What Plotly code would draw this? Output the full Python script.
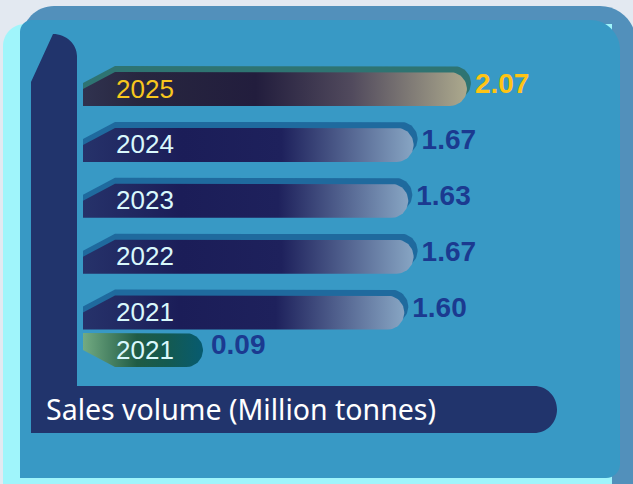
import numpy as np
import plotly.graph_objects as go

# ---------------- data ----------------
years = ["2025", "2024", "2023", "2022", "2021", "2021"]
values = [2.07, 1.67, 1.63, 1.67, 1.60, 0.09]
value_labels = ["2.07", "1.67", "1.63", "1.67", "1.60", "0.09"]
title_text = "Sales volume (Million tonnes)"

# ---------------- layout / style constants ----------------
W, H = 633, 484
PX0, PXU = 191.0, 133.3      # pixel of value 0, pixels per unit (x scale)
ROW0, ROWU = 89.0, 55.9      # pixel of first row, pixels per row (y scale)
row_pos = [0, 1, 2, 3, 4, 4.67]
kinds = ["gold", "blue", "blue", "blue", "blue", "green"]


def xd(px):
    return (px - PX0) / PXU


def yd(py):
    return (py - ROW0) / ROWU


BAR_LEFT = xd(83)
HH = 17 / ROWU
RX = 17 / PXU
SLW = 32 / PXU
SLH = 17 / ROWU

grad = {
    "gold": [[0, "#30324f"], [0.15, "#27263f"], [0.45, "#221d3d"], [0.7, "#514a5d"], [1, "#aca98d"]],
    "blue": [[0, "#26326a"], [0.3, "#1b1d58"], [0.6, "#1e215c"], [1, "#87a5c3"]],
    "green": [[0, "#73ab82"], [0.45, "#1f5b45"], [0.7, "#145a50"], [1, "#075b70"]],
}
back_col = {"gold": "#2e7472", "blue": "#1f6a9e"}
year_col = {"gold": "#f8c71d", "blue": "#d9f8fc", "green": "#d9f8fc"}
val_col = {"gold": "#ffc414", "blue": "#1b3a90", "green": "#1b3a90"}


def arc(cx, cy):
    t = np.linspace(-np.pi / 2, np.pi / 2, 30)
    return list(cx + RX * np.cos(t)), list(cy + HH * np.sin(t))


def bar_shape(v, r, cut="top", dx=0.0, dy=0.0):
    top, bot = r - HH + dy, r + HH + dy
    ax, ay = arc(v - RX + dx, r + dy)
    if cut == "top":
        xs = [BAR_LEFT, BAR_LEFT, BAR_LEFT + SLW] + ax + [BAR_LEFT]
        ys = [bot, top + SLH, top] + ay + [bot]
    else:
        xs = [BAR_LEFT] + ax + [BAR_LEFT + SLW, BAR_LEFT, BAR_LEFT]
        ys = [top] + ay + [bot, bot - SLH, top]
    return xs, ys


fig = go.Figure()

for yr, v, r, k in zip(years, values, row_pos, kinds):
    if k != "green":
        bx, by = bar_shape(v, r, "top", dx=4 / PXU, dy=-6 / ROWU)
        fig.add_trace(go.Scatter(x=bx, y=by, mode="lines", fill="toself",
                                 fillcolor=back_col[k], line=dict(width=0),
                                 hoverinfo="skip"))
    mx, my = bar_shape(v, r, "top" if k != "green" else "bottom")
    fig.add_trace(go.Scatter(x=mx, y=my, mode="lines", fill="toself",
                             fillgradient=dict(type="horizontal", colorscale=grad[k]),
                             line=dict(width=0), hoverinfo="skip"))

# year labels inside bars
fig.add_trace(go.Scatter(
    x=[xd(116)] * len(years), y=[r + 2 / ROWU for r in row_pos], mode="text",
    text=years, textposition="middle right",
    textfont=dict(family="Liberation Sans", size=26, color=[year_col[k] for k in kinds]),
    hoverinfo="skip"))

# value labels
fig.add_trace(go.Scatter(
    x=[v + 8 / PXU for v in values], y=[r - 3 / ROWU for r in row_pos], mode="text",
    text=[f"<b>{t}</b>" for t in value_labels], textposition="middle right",
    textfont=dict(family="Liberation Sans", size=28, color=[val_col[k] for k in kinds]),
    hoverinfo="skip"))


# ---------------- decorations (paper coords from pixels) ----------------
def P(px, py):
    return f"{px / W:.5f},{1 - py / H:.5f}"


def rrect(x0, y0, x1, y1, tl, tr, br, bl):
    k = 0.5523
    s = f"M{P(x0 + tl, y0)} L{P(x1 - tr, y0)} "
    s += f"C{P(x1 - tr + k * tr, y0)} {P(x1, y0 + tr - k * tr)} {P(x1, y0 + tr)} "
    s += f"L{P(x1, y1 - br)} C{P(x1, y1 - br + k * br)} {P(x1 - br + k * br, y1)} {P(x1 - br, y1)} "
    s += f"L{P(x0 + bl, y1)} C{P(x0 + bl - k * bl, y1)} {P(x0, y1 - bl + k * bl)} {P(x0, y1 - bl)} "
    s += f"L{P(x0, y0 + tl)} C{P(x0, y0 + tl - k * tl)} {P(x0 + tl - k * tl, y0)} {P(x0 + tl, y0)} Z"
    return s


navy = (f"M{P(31, 82)} L{P(53, 34)} C{P(66, 34)} {P(77, 44)} {P(77, 56)} "
        f"L{P(77, 386)} L{P(534, 386)} C{P(547, 386)} {P(557, 396.5)} {P(557, 409.5)} "
        f"C{P(557, 422.5)} {P(547, 433)} {P(534, 433)} L{P(31, 433)} Z")

shapes = [
    dict(type="path", path=rrect(22, 6, 636, 500, 32, 36, 0, 0), fillcolor="#5290bb"),
    dict(type="path", path=rrect(3, 24, 612, 495, 22, 0, 0, 0), fillcolor="#a0f5fb"),
    dict(type="path", path=rrect(20, 20, 620, 478, 12, 30, 14, 0), fillcolor="#3899c5"),
    dict(type="path", path=navy, fillcolor="#21346c"),
]
for s in shapes:
    s.update(xref="paper", yref="paper", layer="below", line=dict(width=0))

fig.update_layout(
    width=W, height=H, margin=dict(l=0, r=0, t=0, b=0),
    paper_bgcolor="#e3e9f1", plot_bgcolor="rgba(0,0,0,0)",
    showlegend=False, hovermode=False, shapes=shapes,
    xaxis=dict(range=[xd(0), xd(W)], visible=False, fixedrange=True),
    yaxis=dict(range=[yd(H), yd(0)], visible=False, fixedrange=True),
    annotations=[dict(text=title_text, xref="paper", yref="paper",
                      x=44 / W, y=1 - 409 / H, xanchor="left", yanchor="middle",
                      showarrow=False,
                      font=dict(family="Noto Sans", size=28.5, color="#ffffff"))],
)

fig.write_html("out.html")
